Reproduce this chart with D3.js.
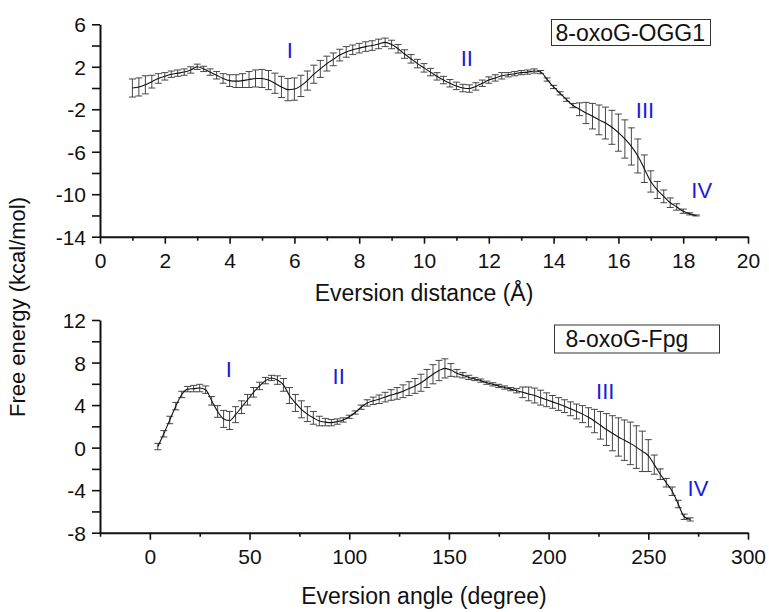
<!DOCTYPE html>
<html>
<head>
<meta charset="utf-8">
<script src="https://cdn.jsdelivr.net/npm/d3@7"></script>
<style>
  body { margin: 0; background: #fff; }
  svg { display: block; font-family: "Liberation Sans", Arial, sans-serif; }
</style>
</head>
<body>
<svg id="chart" width="769" height="612"></svg>
<script>
// top panel: 8-oxoG-OGG1, eversion distance (Å)
const distX = [1.0,1.2,1.4,1.6,1.8,2.0,2.2,2.4,2.6,2.8,3.0,3.2,3.4,3.6,3.8,4.0,4.2,4.4,4.6,4.8,
  5.0,5.2,5.4,5.6,5.8,6.0,6.2,6.4,6.6,6.8,7.0,7.2,7.4,7.6,7.8,8.0,8.2,8.4,8.6,8.8,
  9.0,9.2,9.4,9.6,9.8,10.0,10.2,10.4,10.6,10.8,11.0,11.2,11.4,11.6,11.8,12.0,12.2,12.4,12.6,12.8,
  13.0,13.2,13.4,13.6,13.8,14.0,14.2,14.4,14.6,14.8,15.0,15.2,15.4,15.6,15.8,16.0,16.2,16.4,16.6,16.8,
  17.0,17.2,17.4,17.6,17.8,18.0,18.2,18.4];
const ogg1Energy = [0.0,0.1,0.3,0.6,0.9,1.1,1.3,1.4,1.5,1.7,2.0,1.8,1.5,1.2,0.9,0.7,0.65,0.7,0.8,0.9,
  0.9,0.75,0.45,0.1,-0.15,-0.1,0.2,0.7,1.3,1.8,2.3,2.7,3.1,3.4,3.6,3.75,3.9,4.0,4.15,4.3,
  4.1,3.7,3.2,2.75,2.3,1.9,1.5,1.1,0.75,0.45,0.2,0.0,-0.05,0.15,0.45,0.75,0.95,1.15,1.25,1.35,
  1.45,1.5,1.6,1.5,0.8,0.1,-0.5,-1.1,-1.65,-2.0,-2.35,-2.65,-3.0,-3.3,-3.7,-4.2,-4.8,-5.5,-6.4,-7.6,
  -8.8,-9.6,-10.2,-10.8,-11.2,-11.6,-11.85,-12.0];
const ogg1Err = [0.85,0.85,0.85,0.6,0.45,0.35,0.3,0.3,0.3,0.3,0.25,0.25,0.3,0.35,0.45,0.55,0.6,0.65,0.75,0.8,
  0.85,0.9,0.95,1.0,1.05,1.05,1.0,0.9,0.85,0.8,0.7,0.6,0.55,0.5,0.45,0.45,0.45,0.45,0.45,0.4,
  0.4,0.4,0.4,0.4,0.4,0.4,0.35,0.35,0.35,0.35,0.35,0.35,0.35,0.35,0.3,0.3,0.3,0.3,0.2,0.2,
  0.2,0.2,0.2,0.15,0.15,0.15,0.15,0.15,0.2,0.6,1.0,1.2,1.4,1.5,1.6,1.75,1.8,1.75,1.6,1.3,
  1.0,0.8,0.6,0.45,0.3,0.2,0.1,0.05];

// bottom panel: 8-oxoG-Fpg, eversion angle (degree)
const angleX = [4,7,10,13,16,19,22,25,28,31,34,37,40,43,46,49,52,55,58,61,
  64,67,70,73,76,79,82,85,88,91,94,97,100,103,106,109,112,115,118,121,
  124,127,130,133,136,139,142,145,148,151,154,157,160,163,166,169,172,175,178,181,
  184,187,190,193,196,199,202,205,208,211,214,217,220,223,226,229,232,235,238,241,
  244,247,250,253,256,259,262,265,268,271];
const fpgEnergy = [0.1,1.3,2.6,3.9,5.0,5.5,5.55,5.6,5.45,4.4,3.4,2.7,2.55,3.1,3.8,4.5,5.2,5.8,6.3,6.55,
  6.35,5.9,4.9,4.2,3.6,3.15,2.8,2.5,2.4,2.35,2.45,2.6,2.9,3.3,3.8,4.2,4.4,4.55,4.75,4.95,
  5.1,5.3,5.55,5.8,6.1,6.5,6.9,7.25,7.45,7.3,7.0,6.8,6.6,6.45,6.3,6.1,5.95,5.8,5.65,5.5,
  5.35,5.2,5.05,4.9,4.7,4.5,4.3,4.1,3.9,3.65,3.4,3.15,2.85,2.5,2.1,1.7,1.35,1.0,0.7,0.4,
  0.05,-0.35,-0.75,-1.6,-2.5,-3.3,-4.1,-5.3,-6.5,-6.75];
const fpgErr = [0.3,0.3,0.35,0.35,0.3,0.25,0.3,0.35,0.35,0.4,0.55,0.8,0.85,0.75,0.6,0.5,0.45,0.35,0.3,0.25,
  0.4,0.6,0.75,0.8,0.8,0.7,0.6,0.45,0.35,0.3,0.25,0.2,0.15,0.15,0.2,0.3,0.35,0.4,0.45,0.5,
  0.55,0.6,0.65,0.7,0.8,0.85,0.9,0.95,0.9,0.6,0.35,0.25,0.2,0.15,0.15,0.15,0.15,0.15,0.15,0.15,
  0.2,0.5,0.65,0.7,0.7,0.65,0.6,0.6,0.6,0.65,0.7,0.8,0.9,1.1,1.3,1.5,1.65,1.8,1.9,2.0,
  2.0,1.9,1.5,0.9,0.5,0.4,0.4,0.35,0.25,0.15];

// region labels, placed in data units
const topLabels = [
  {t: "I", x: 5.86, y: 2.85},
  {t: "II", x: 11.32, y: 2.1},
  {t: "III", x: 16.82, y: -2.8},
  {t: "IV", x: 18.57, y: -10.35}
];
const bottomLabels = [
  {t: "I", x: 39.6, y: 6.65},
  {t: "II", x: 94.7, y: 5.95},
  {t: "III", x: 228.4, y: 4.55},
  {t: "IV", x: 274.9, y: -4.55}
];

const svg = d3.select("#chart");

function panel(cfg) {
  const x = d3.scaleLinear().domain(cfg.xDomain).range([100, 748]);
  const y = d3.scaleLinear().domain(cfg.yDomain).range([cfg.bottom, cfg.top]);
  const g = svg.append("g");
  const minus = d => d < 0 ? "-" + (-d) : String(d);

  const xAxis = d3.axisBottom(x).tickValues(cfg.xTicks).tickSizeOuter(0).tickPadding(3)
    .tickFormat(d => cfg.xLabels.includes(d) ? minus(d) : "");
  const yAxis = d3.axisLeft(y).tickValues(cfg.yTicks).tickSize(8).tickSizeOuter(0).tickPadding(6)
    .tickFormat(d => cfg.yLabels.includes(d) ? minus(d) : "");

  const gx = g.append("g").attr("transform", `translate(0,${cfg.bottom})`).call(xAxis);
  const gy = g.append("g").attr("transform", "translate(100,0)").call(yAxis);
  gx.selectAll(".tick line").attr("y2", d => cfg.xLabels.includes(d) ? 7 : 4);
  [gx, gy].forEach(a => {
    a.select(".domain").attr("stroke", "#111").attr("stroke-width", 2);
    a.selectAll(".tick line").attr("stroke", "#111").attr("stroke-width", 1.6);
    a.selectAll("text").attr("font-size", 21).attr("fill", "#111")
      .attr("font-family", "Liberation Sans, Arial, sans-serif");
  });
  gx.selectAll("text").attr("y", 10).attr("dy", "1.0em");
  gy.selectAll("text").attr("dy", "0.36em");

  const pts = cfg.xs.map((d, i) => ({x: d, v: cfg.vals[i], e: cfg.errs[i]}));

  // error bars
  const eb = g.append("g").attr("stroke", "#333").attr("stroke-width", 0.9);
  pts.forEach(p => {
    const px = x(p.x), y1 = y(p.v + p.e), y2 = y(p.v - p.e);
    eb.append("line").attr("x1", px).attr("x2", px).attr("y1", y1).attr("y2", y2);
    eb.append("line").attr("x1", px - 3.5).attr("x2", px + 3.5).attr("y1", y1).attr("y2", y1);
    eb.append("line").attr("x1", px - 3.5).attr("x2", px + 3.5).attr("y1", y2).attr("y2", y2);
  });

  g.append("path").datum(pts)
    .attr("fill", "none").attr("stroke", "#111").attr("stroke-width", 1.1)
    .attr("d", d3.line().x(d => x(d.x)).y(d => y(d.v)).curve(d3.curveMonotoneX));

  cfg.labels.forEach(l => {
    g.append("text").attr("x", x(l.x)).attr("y", y(l.y))
      .attr("text-anchor", "middle").attr("font-size", 22).attr("fill", "#1a1adb")
      .text(l.t);
  });

  // legend box
  g.append("rect").attr("x", cfg.legend.x).attr("y", cfg.legend.y)
    .attr("width", cfg.legend.w).attr("height", cfg.legend.h)
    .attr("fill", "#fff").attr("stroke", "#333").attr("stroke-width", 1);
  g.append("text").attr("x", cfg.legend.x + cfg.legend.pad).attr("y", cfg.legend.y + cfg.legend.h / 2 + 8)
    .attr("font-size", 23).attr("fill", "#111").text(cfg.legend.text);

  g.append("text").attr("x", 424).attr("y", cfg.titleY)
    .attr("text-anchor", "middle").attr("font-size", 23).attr("fill", "#111")
    .text(cfg.title);
}

panel({
  xDomain: [0, 20], yDomain: [-14, 6], top: 24.3, bottom: 236.7,
  xTicks: d3.range(0, 21, 1), xLabels: [0, 2, 4, 6, 8, 10, 12, 14, 16, 18, 20],
  yTicks: d3.range(-14, 7, 2), yLabels: [6, 2, -2, -6, -10, -14],
  xs: distX, vals: ogg1Energy, errs: ogg1Err, labels: topLabels,
  legend: {x: 551.5, y: 19.5, w: 159, h: 26, pad: 4, text: "8-oxoG-OGG1"},
  title: "Eversion distance (Å)", titleY: 301
});

panel({
  xDomain: [-25, 300], yDomain: [-8, 12], top: 320, bottom: 532.7,
  xTicks: d3.range(-25, 301, 25), xLabels: [0, 50, 100, 150, 200, 250, 300],
  yTicks: d3.range(-8, 13, 2), yLabels: [12, 8, 4, 0, -4, -8],
  xs: angleX, vals: fpgEnergy, errs: fpgErr, labels: bottomLabels,
  legend: {x: 554.5, y: 325, w: 165, h: 28, pad: 11, text: "8-oxoG-Fpg"},
  title: "Eversion angle (degree)", titleY: 604
});

svg.append("text")
  .attr("transform", "translate(25,307) rotate(-90)")
  .attr("text-anchor", "middle").attr("font-size", 22).attr("fill", "#111")
  .text("Free energy (kcal/mol)");
</script>
</body>
</html>
